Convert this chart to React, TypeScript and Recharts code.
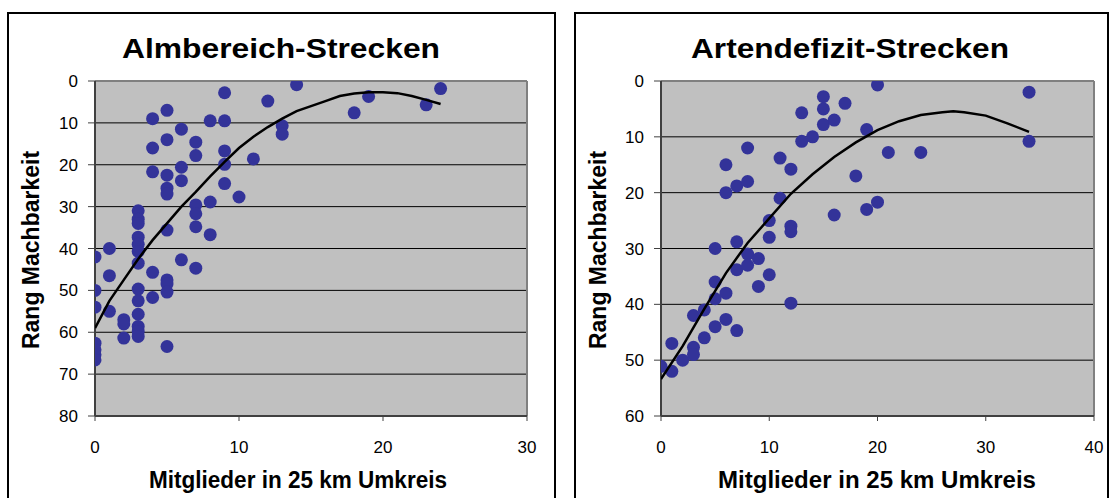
// Zwei Streudiagramme: Rang Machbarkeit vs. Mitglieder im 25 km Umkreis

import { ScatterChart, Scatter, XAxis, YAxis, CartesianGrid, ReferenceLine } from 'recharts';

// --- Almbereich-Strecken ---
const almX = [0, 0, 0, 0, 0, 0, 0, 1, 1, 1, 2, 2, 2,
  3, 3, 3, 3, 3, 3, 3, 3, 3, 3, 3, 3, 3,
  4, 4, 4, 4, 4, 5, 5, 5, 5, 5, 5, 5, 5, 5, 5,
  6, 6, 6, 6, 7, 7, 7, 7, 7, 7, 8, 8, 8, 9, 9, 9, 9, 9,
  10, 11, 12, 13, 13, 14, 18, 19, 23, 24];
const almY = [42, 50, 54, 62.6, 64.2, 65.4, 66.6, 40, 46.5, 55, 57, 58, 61.4,
  31, 33, 34, 37.3, 39, 40.7, 43.5, 49.7, 52.5, 55.7, 58.6, 59.8, 61,
  9, 16, 21.7, 45.7, 51.7, 7, 14, 22.5, 25.6, 27, 35.6, 47.5, 48.5, 50.4, 63.4,
  11.5, 20.6, 23.8, 42.7, 14.6, 17.8, 29.6, 31.7, 34.8, 44.7, 9.5, 28.9, 36.7, 2.8, 9.5, 16.7, 19.9, 24.5,
  27.7, 18.6, 4.8, 10.7, 12.7, 0.9, 7.6, 3.7, 5.7, 1.8];
const almTrendX = [0, 1, 2, 3, 4, 5, 6, 7, 8, 9, 10, 11, 12, 13, 14, 15, 16, 17, 18, 19, 20, 21, 22, 23, 24];
const almTrendY = [59, 52.5, 47.5, 42.5, 38, 34, 30, 26.5, 22.8, 19.3, 16, 13.3, 11, 9, 7.2, 6, 4.8, 3.6, 3, 2.7, 2.7, 2.9, 3.6, 4.5, 5.5];
const almXTicks = [0, 10, 20, 30];
const almYTicks = [0, 10, 20, 30, 40, 50, 60, 70, 80];

// --- Artendefizit-Strecken ---
const artX = [0, 1, 1, 2, 3, 3, 3, 4, 4, 5, 5, 5, 5, 6, 6, 6, 6,
  7, 7, 7, 7, 8, 8, 8, 8, 9, 9, 10, 10, 10, 11, 11, 12, 12, 12, 12,
  13, 13, 14, 15, 15, 15, 16, 16, 17, 18, 19, 19, 20, 20, 21, 24, 34, 34];
const artY = [51.1, 52, 47, 50, 47.7, 49, 42, 41, 46, 44, 39, 36, 30, 38, 42.7, 15, 20,
  44.7, 28.8, 33.8, 18.8, 31, 33, 12, 18, 31.8, 36.8, 25, 28, 34.7, 13.8, 21, 15.8, 26, 27, 39.8,
  5.7, 10.8, 10, 2.8, 5, 7.8, 7, 24, 4, 17, 8.7, 23, 21.7, 0.7, 12.8, 12.8, 2, 10.8];
const artTrendX = [0, 2, 4, 6, 8, 10, 12, 14, 16, 18, 20, 22, 24, 26, 27, 28, 30, 32, 34];
const artTrendY = [53.4, 47.5, 40.8, 34.4, 29, 24.6, 20.2, 16.7, 13.6, 11, 8.8, 7.2, 6.1, 5.6, 5.4, 5.6, 6.2, 7.6, 9.1];
const artXTicks = [0, 10, 20, 30, 40];
const artYTicks = [0, 10, 20, 30, 40, 50, 60];

const FONT = '"Liberation Sans", Arial, sans-serif';
const PUNKT = '#333399';
const ACHSE = '#404040';

const zip = (xs: number[], ys: number[]) => xs.map((x, i) => ({ x, y: ys[i] }));

interface PanelProps {
  titel: string;
  left: number;
  width: number;
  yAxisWidth: number;
  rightMargin: number;
  xMax: number;
  yMax: number;
  xTicks: number[];
  yTicks: number[];
  punkte: { x: number; y: number }[];
  trend: { x: number; y: number }[];
  titelX: number;
  xLabelX: number;
  xLabelLen: number;
  yLabelX: number;
}

function Panel(p: PanelProps) {
  const top = 12;
  const h = 520;
  return (
    <div style={{ position: 'absolute', left: p.left, top, width: p.width, height: h, border: '2px solid #000', boxSizing: 'border-box', background: '#fff' }}>
      <div style={{ position: 'absolute', left: -2, top: -2 }}>
        <ScatterChart width={p.width} height={h} margin={{ top: 69, right: p.rightMargin, bottom: h - 404 - 30, left: 0 }}>
          <CartesianGrid horizontal vertical={false} stroke="#000" fill="#c0c0c0" fillOpacity={1} />
          <XAxis type="number" dataKey="x" domain={[0, p.xMax]} ticks={p.xTicks} interval={0}
            height={30} tickSize={5} tickMargin={20} axisLine={{ stroke: ACHSE, strokeWidth: 2 }}
            tickLine={{ stroke: ACHSE }} tick={{ fontSize: 17, fill: '#000', fontFamily: FONT }} allowDataOverflow />
          <YAxis type="number" dataKey="y" reversed domain={[0, p.yMax]} ticks={p.yTicks} interval={0}
            width={p.yAxisWidth} tickSize={7} tickMargin={10} axisLine={{ stroke: ACHSE, strokeWidth: 2 }}
            tickLine={{ stroke: ACHSE }} tick={{ fontSize: 17, fill: '#000', fontFamily: FONT }} allowDataOverflow />
          <ReferenceLine y={0} stroke="#808080" strokeWidth={2} />
          <ReferenceLine x={p.xMax} stroke="#808080" strokeWidth={2} />
          <Scatter data={p.punkte} isAnimationActive={false}
            shape={(s: any) => <circle cx={s.cx} cy={s.cy} r={6.5} fill={PUNKT} />} />
          <Scatter data={p.trend} isAnimationActive={false} line={{ stroke: '#000', strokeWidth: 2.5 }}
            lineType="joint" shape={() => <g />} />
        </ScatterChart>
      </div>
      <svg width={p.width} height={h} style={{ position: 'absolute', left: -2, top: -2, pointerEvents: 'none' }}>
        <text x={p.titelX} y={46} textAnchor="middle" fontFamily={FONT} fontWeight="bold" fontSize={28}
          textLength={318} lengthAdjust="spacingAndGlyphs">{p.titel}</text>
        <text x={p.xLabelX} y={476} textAnchor="middle" fontFamily={FONT} fontWeight="bold" fontSize={23}
          textLength={p.xLabelLen} lengthAdjust="spacingAndGlyphs">Mitglieder in 25 km Umkreis</text>
        <text x={p.yLabelX} y={238} textAnchor="middle" fontFamily={FONT} fontWeight="bold" fontSize={23}
          transform={`rotate(-90 ${p.yLabelX} 238)`}>Rang Machbarkeit</text>
      </svg>
    </div>
  );
}

export default function App() {
  return (
    <div style={{ position: 'fixed', left: 0, top: 0, width: 1112, height: 498, background: '#fff', overflow: 'hidden' }}>
      <Panel titel="Almbereich-Strecken" left={7} width={549} yAxisWidth={88} rightMargin={29}
        xMax={30} yMax={80} xTicks={almXTicks} yTicks={almYTicks}
        punkte={zip(almX, almY)} trend={zip(almTrendX, almTrendY)}
        titelX={274} xLabelX={291} xLabelLen={298} yLabelX={32} />
      <Panel titel="Artendefizit-Strecken" left={574} width={535} yAxisWidth={87} rightMargin={15}
        xMax={40} yMax={60} xTicks={artXTicks} yTicks={artYTicks}
        punkte={zip(artX, artY)} trend={zip(artTrendX, artTrendY)}
        titelX={276} xLabelX={303} xLabelLen={318} yLabelX={32} />
    </div>
  );
}
